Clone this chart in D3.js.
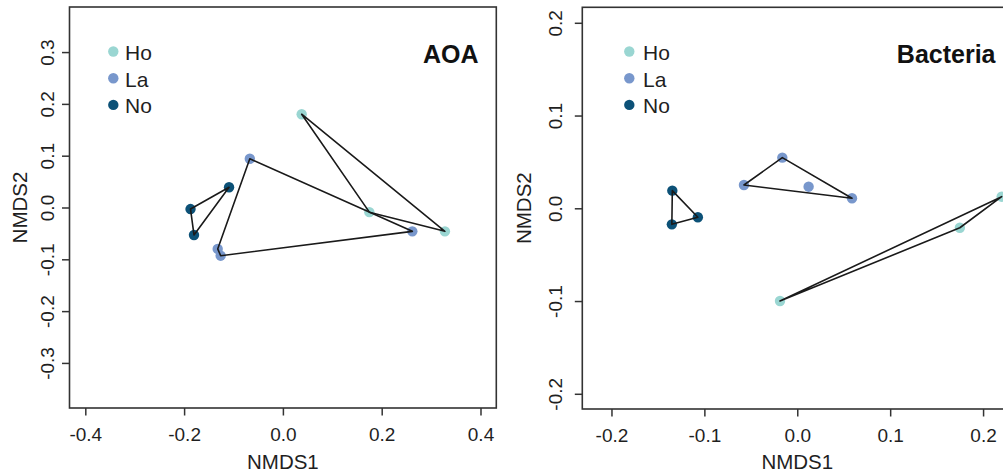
<!DOCTYPE html>
<html>
<head>
<meta charset="utf-8">
<script src="https://cdn.jsdelivr.net/npm/d3@7"></script>
<style>
  html, body { margin: 0; padding: 0; background: #fff; }
  svg { display: block; font-family: "Liberation Sans", Arial, Helvetica, sans-serif; }
</style>
</head>
<body>
<svg id="chart" width="1003" height="476"></svg>
<script>
// Groups shown in the legend
const groups = ["Ho", "La", "No"];

// AOA ordination scores (NMDS1 / NMDS2) per group
const aoaHoX = [0.038, 0.175, 0.328];
const aoaHoY = [0.180, -0.009, -0.046];
const aoaLaX = [-0.067, 0.262, -0.132, -0.126];
const aoaLaY = [0.094, -0.046, -0.080, -0.093];
const aoaNoX = [-0.187, -0.180, -0.109];
const aoaNoY = [-0.003, -0.053, 0.039];

// Bacteria ordination scores (NMDS1 / NMDS2) per group
const bacHoX = [-0.0186, 0.175, 0.220];
const bacHoY = [-0.100, -0.021, 0.0125];
const bacLaX = [-0.0574, -0.0161, 0.0122, 0.0589];
const bacLaY = [0.0251, 0.0546, 0.0233, 0.0108];
const bacNoX = [-0.1345, -0.135, -0.107];
const bacNoY = [0.019, -0.0173, -0.0097];

// Tick values
const aoaXTicks = [-0.4, -0.2, 0.0, 0.2, 0.4];
const aoaYTicks = [-0.3, -0.2, -0.1, 0.0, 0.1, 0.2, 0.3];
const bacXTicks = [-0.2, -0.1, 0.0, 0.1, 0.2];
const bacYTicks = [-0.2, -0.1, 0.0, 0.1, 0.2];

const groupColor = { Ho: "#9ad6d2", La: "#7897cc", No: "#0c5177" };

const zip = (xs, ys) => xs.map((x, i) => [x, ys[i]]);

const panels = [
  {
    title: "AOA",
    groups: { Ho: zip(aoaHoX, aoaHoY), La: zip(aoaLaX, aoaLaY), No: zip(aoaNoX, aoaNoY) },
    xDomain: [-0.432, 0.432], xRange: [69.5, 496.3],
    yDomain: [-0.387, 0.387], yRange: [408, 7],
    xTicks: aoaXTicks, yTicks: aoaYTicks,
    yLabelX: 53.5, yTitleX: 27, legendX: 113.3, legendTextX: 125, titleX: 478.5
  },
  {
    title: "Bacteria",
    groups: { Ho: zip(bacHoX, bacHoY), La: zip(bacLaX, bacLaY), No: zip(bacNoX, bacNoY) },
    xDomain: [-0.2314, 0.2306], xRange: [582.3, 1011.5],
    yDomain: [-0.2164, 0.2167], yRange: [409, 7.3],
    xTicks: bacXTicks, yTicks: bacYTicks,
    yLabelX: 561.5, yTitleX: 530.5, legendX: 629.3, legendTextX: 643, titleX: 995.5
  }
];

const svg = d3.select("#chart");
// one decimal, plain hyphen for negatives
const fmt = d => (Math.abs(d) < 1e-9 ? 0 : d).toFixed(1);
const textColor = "#1f1f1f";

panels.forEach(p => {
  const x = d3.scaleLinear().domain(p.xDomain).range(p.xRange);
  const y = d3.scaleLinear().domain(p.yDomain).range(p.yRange);
  const g = svg.append("g");

  // plot frame
  g.append("rect")
    .attr("x", p.xRange[0]).attr("y", p.yRange[1])
    .attr("width", p.xRange[1] - p.xRange[0])
    .attr("height", p.yRange[0] - p.yRange[1])
    .attr("fill", "none").attr("stroke", "#333").attr("stroke-width", 1.6);

  // x axis
  const xa = g.append("g")
    .attr("transform", `translate(0,${p.yRange[0]})`)
    .call(d3.axisBottom(x).tickValues(p.xTicks).tickSize(7.5).tickFormat(fmt));
  xa.select(".domain").remove();
  xa.selectAll(".tick line").attr("stroke", "#333").attr("stroke-width", 1.5);
  xa.selectAll(".tick text")
    .attr("y", 33).attr("dy", 0)
    .attr("font-size", 19).attr("fill", textColor)
    .attr("font-family", "Liberation Sans, Arial, sans-serif");

  // y axis
  const ya = g.append("g")
    .attr("transform", `translate(${p.xRange[0]},0)`)
    .call(d3.axisLeft(y).tickValues(p.yTicks).tickSize(7.5).tickFormat(fmt));
  ya.select(".domain").remove();
  ya.selectAll(".tick line").attr("stroke", "#333").attr("stroke-width", 1.5);
  ya.selectAll(".tick text")
    .attr("x", 0).attr("y", 0).attr("dy", 0)
    .attr("text-anchor", "middle")
    .attr("transform", `translate(${p.yLabelX - p.xRange[0]},0) rotate(-90)`)
    .attr("font-size", 19).attr("fill", textColor)
    .attr("font-family", "Liberation Sans, Arial, sans-serif");

  // axis titles
  const midY = (p.yRange[0] + p.yRange[1]) / 2;
  g.append("text")
    .attr("x", x(0)).attr("y", 469)
    .attr("text-anchor", "middle").attr("font-size", 20.5).attr("fill", textColor)
    .text("NMDS1");
  g.append("text")
    .attr("transform", `translate(${p.yTitleX},${midY}) rotate(-90)`)
    .attr("text-anchor", "middle").attr("font-size", 20.5).attr("fill", textColor)
    .text("NMDS2");

  // clip marks to the plot frame
  const clipId = "clip-" + p.title;
  g.append("clipPath").attr("id", clipId)
    .append("rect")
    .attr("x", p.xRange[0]).attr("y", p.yRange[1])
    .attr("width", p.xRange[1] - p.xRange[0])
    .attr("height", p.yRange[0] - p.yRange[1]);
  const plot = g.append("g").attr("clip-path", `url(#${clipId})`);

  // sample points
  groups.forEach(name => {
    plot.selectAll(null)
      .data(p.groups[name])
      .enter().append("circle")
      .attr("cx", d => x(d[0])).attr("cy", d => y(d[1]))
      .attr("r", 5.2)
      .attr("fill", groupColor[name]);
  });

  // convex hull around each group
  groups.forEach(name => {
    const hull = d3.polygonHull(p.groups[name]);
    plot.append("path")
      .attr("d", d3.line().x(d => x(d[0])).y(d => y(d[1]))(hull) + "Z")
      .attr("fill", "none").attr("stroke", "#1a1a1a")
      .attr("stroke-width", 1.6).attr("stroke-linejoin", "round");
  });

  // legend
  groups.forEach((name, i) => {
    const cy = 51.5 + i * 26.7;
    g.append("circle")
      .attr("cx", p.legendX).attr("cy", cy).attr("r", 5.2)
      .attr("fill", groupColor[name]);
    g.append("text")
      .attr("x", p.legendTextX).attr("y", cy + 8.3)
      .attr("font-size", 21).attr("fill", textColor)
      .text(name);
  });

  // panel title
  g.append("text")
    .attr("x", p.titleX).attr("y", 62.5)
    .attr("text-anchor", "end").attr("font-size", 25).attr("font-weight", "bold")
    .attr("fill", "#111")
    .text(p.title);
});
</script>
</body>
</html>
